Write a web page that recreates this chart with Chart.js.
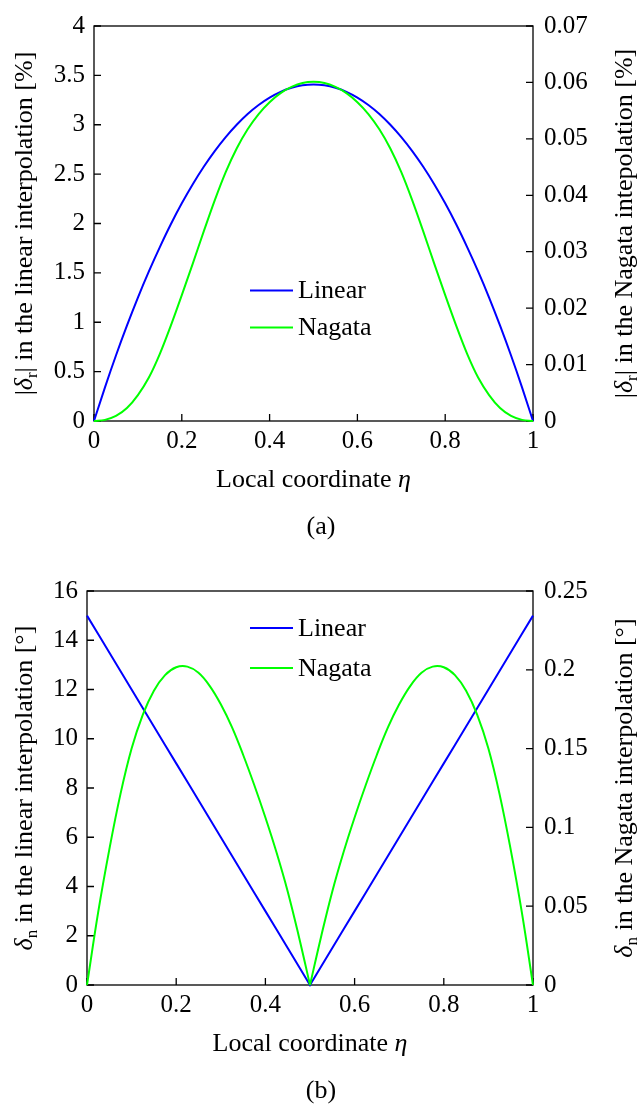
<!DOCTYPE html>
<html>
<head>
<meta charset="utf-8">
<script src="https://cdn.jsdelivr.net/npm/chart.js@4.4.0/dist/chart.umd.min.js"></script>
<style>
  html, body { margin: 0; padding: 0; background: #fff; }
  .panel { position: absolute; left: 0; width: 638px; height: 552px; }
</style>
</head>
<body>
<div class="panel" style="top:0"><canvas id="chartA" width="638" height="552"></canvas></div>
<div class="panel" style="top:552px"><canvas id="chartB" width="638" height="552"></canvas></div>
<script>
// local coordinate samples along the element
const eta = [0, 0.025, 0.05, 0.075, 0.1, 0.125, 0.15, 0.175, 0.2, 0.225, 0.25,
             0.275, 0.3, 0.325, 0.35, 0.375, 0.4, 0.425, 0.45, 0.475, 0.5,
             0.525, 0.55, 0.575, 0.6, 0.625, 0.65, 0.675, 0.7, 0.725, 0.75,
             0.775, 0.8, 0.825, 0.85, 0.875, 0.9, 0.925, 0.95, 0.975, 1];

// (a) |δr| in %, linear interpolation (left axis)
const radialLinear = [0, 0.341, 0.663, 0.965, 1.250, 1.515, 1.761, 1.992, 2.204, 2.397, 2.574,
                      2.733, 2.875, 3.000, 3.109, 3.200, 3.275, 3.333, 3.374, 3.399, 3.407,
                      3.399, 3.374, 3.333, 3.275, 3.200, 3.109, 3.000, 2.875, 2.733, 2.574,
                      2.397, 2.204, 1.992, 1.761, 1.515, 1.250, 0.965, 0.663, 0.341, 0];
// (a) |δr| in %, Nagata interpolation (right axis)
const radialNagata = [0, 0.0002, 0.0009, 0.0023, 0.0046, 0.0077, 0.0119, 0.0169, 0.0223, 0.0279, 0.0336,
                      0.0391, 0.0441, 0.0483, 0.0517, 0.0544, 0.0565, 0.0581, 0.0592, 0.0599, 0.0601,
                      0.0599, 0.0592, 0.0581, 0.0565, 0.0544, 0.0517, 0.0483, 0.0441, 0.0391, 0.0336,
                      0.0279, 0.0223, 0.0169, 0.0119, 0.0077, 0.0046, 0.0023, 0.0009, 0.0002, 0];

// (b) δn in degrees, linear interpolation (left axis)
const normalLinear = [15, 14.25, 13.5, 12.75, 12, 11.25, 10.5, 9.75, 9, 8.25, 7.5,
                      6.75, 6, 5.25, 4.5, 3.75, 3, 2.25, 1.5, 0.75, 0,
                      0.75, 1.5, 2.25, 3, 3.75, 4.5, 5.25, 6, 6.75, 7.5,
                      8.25, 9, 9.75, 10.5, 11.25, 12, 12.75, 13.5, 14.25, 15];
// (b) δn in degrees, Nagata interpolation (right axis)
const normalNagata = [0, 0.0461, 0.0859, 0.1211, 0.15, 0.1714, 0.1867, 0.1966, 0.2016, 0.2020, 0.1981,
                      0.1898, 0.1781, 0.1636, 0.1461, 0.1269, 0.1063, 0.0841, 0.0594, 0.0308, 0,
                      0.0308, 0.0594, 0.0841, 0.1063, 0.1269, 0.1461, 0.1636, 0.1781, 0.1898, 0.1981,
                      0.2020, 0.2016, 0.1966, 0.1867, 0.1714, 0.15, 0.1211, 0.0859, 0.0461, 0];

const xTicks = [0, 0.2, 0.4, 0.6, 0.8, 1];
const seriesNames = ['Linear', 'Nagata'];

const FONT = '"Liberation Serif", "Times New Roman", serif';
const BLUE = '#0000ff';
const GREEN = '#00ff00';
const INK = '#000';
const TEXT_SIZE = 26;

const fmt = v => String(+Number(v).toFixed(4));
const pts = (xs, ys) => xs.map((x, i) => ({ x, y: ys[i] }));

// draw a line of text made of pieces (italic greek, subscripts), centred on (x, y)
function richText(ctx, parts, x, y, size, vertical) {
  const fontOf = p => `${p.it ? 'italic ' : ''}${p.sub ? Math.round(size * 0.66) : size}px ${FONT}`;
  ctx.save();
  ctx.translate(x, y);
  if (vertical) ctx.rotate(-Math.PI / 2);
  ctx.textAlign = 'left';
  ctx.textBaseline = 'middle';
  ctx.fillStyle = INK;
  let total = 0;
  parts.forEach(p => { ctx.font = fontOf(p); total += ctx.measureText(p.t).width; });
  let cx = -total / 2;
  parts.forEach(p => {
    ctx.font = fontOf(p);
    ctx.fillText(p.t, cx, p.sub ? size * 0.28 : 0);
    cx += ctx.measureText(p.t).width;
  });
  ctx.restore();
}

const decorPlugin = {
  id: 'decor',
  beforeDatasetsDraw(chart) {
    const { ctx, chartArea: a, scales } = chart;
    const len = 7;
    ctx.save();
    ctx.strokeStyle = INK;
    ctx.lineWidth = 1.3;
    ctx.beginPath();
    scales.x.ticks.forEach(t => {
      const px = scales.x.getPixelForValue(t.value);
      ctx.moveTo(px, a.bottom); ctx.lineTo(px, a.bottom - len);
    });
    scales.y.ticks.forEach(t => {
      const py = scales.y.getPixelForValue(t.value);
      ctx.moveTo(a.left, py); ctx.lineTo(a.left + len, py);
    });
    scales.y1.ticks.forEach(t => {
      const py = scales.y1.getPixelForValue(t.value);
      ctx.moveTo(a.right, py); ctx.lineTo(a.right - len, py);
    });
    ctx.stroke();
    ctx.strokeRect(a.left, a.top, a.right - a.left, a.bottom - a.top);
    ctx.restore();
  },
  afterDraw(chart, args, opts) {
    const { ctx, chartArea: a } = chart;
    const midY = (a.top + a.bottom) / 2;
    richText(ctx, opts.leftTitle, 25, midY, TEXT_SIZE, true);
    richText(ctx, opts.rightTitle, 625, midY, TEXT_SIZE, true);
    richText(ctx, [{ t: 'Local coordinate ' }, { t: 'η', it: true }], (a.left + a.right) / 2, a.bottom + 59, TEXT_SIZE, false);
    richText(ctx, [{ t: opts.caption }], 321, a.bottom + 106, TEXT_SIZE, false);

    // legend inside the plot
    const lg = opts.legend;
    ctx.save();
    ctx.font = `${TEXT_SIZE}px ${FONT}`;
    ctx.textBaseline = 'middle';
    ctx.textAlign = 'left';
    seriesNames.forEach((name, i) => {
      const ds = chart.data.datasets.find(d => d.label === name);
      const x0 = a.left + lg.x;
      const y0 = a.top + lg.y + i * lg.gap;
      ctx.strokeStyle = ds.borderColor;
      ctx.lineWidth = 2;
      ctx.beginPath();
      ctx.moveTo(x0, y0); ctx.lineTo(x0 + 43, y0);
      ctx.stroke();
      ctx.fillStyle = INK;
      ctx.fillText(name, x0 + 48, y0 + 1);
    });
    ctx.restore();
  }
};

function makeChart(id, cfg) {
  const tickFont = { family: FONT, size: 25 };
  const yAxis = (pos, range, width, pad) => ({
    type: 'linear',
    position: pos,
    min: 0,
    max: range.max,
    ticks: { stepSize: range.step, padding: pad, font: tickFont, color: INK, callback: fmt },
    grid: { display: false, drawTicks: false, drawOnChartArea: false },
    border: { display: false },
    afterFit: s => { s.width = width; }
  });
  return new Chart(document.getElementById(id), {
    type: 'line',
    data: { datasets: cfg.datasets },
    options: {
      responsive: false,
      animation: false,
      devicePixelRatio: 1,
      layout: { padding: { top: cfg.box.top, left: 0, right: 0, bottom: 0 } },
      elements: {
        point: { radius: 0 },
        line: { borderWidth: 2, cubicInterpolationMode: 'monotone' }
      },
      plugins: {
        legend: { display: false },
        tooltip: { enabled: false },
        decor: cfg.decor
      },
      scales: {
        x: {
          type: 'linear',
          min: 0,
          max: 1,
          afterBuildTicks: s => { s.ticks = xTicks.map(v => ({ value: v })); },
          ticks: { padding: 5, font: tickFont, color: INK, callback: fmt, maxRotation: 0 },
          grid: { display: false, drawTicks: false },
          border: { display: false },
          afterFit: s => { s.height = cfg.box.bottom; }
        },
        y: yAxis('left', cfg.left, cfg.box.left, 9),
        y1: yAxis('right', cfg.right, cfg.box.right, 11)
      }
    },
    plugins: [decorPlugin]
  });
}

const line = (label, data, color, axis, order, extra) =>
  Object.assign({ label, data, borderColor: color, backgroundColor: color, yAxisID: axis, order, clip: false, fill: false }, extra || {});

// (a) radial error
makeChart('chartA', {
  box: { top: 20.5, left: 94, right: 105, bottom: 131 },
  left: { max: 4, step: 0.5 },
  right: { max: 0.07, step: 0.01 },
  datasets: [
    line('Linear', pts(eta, radialLinear), BLUE, 'y', 2),
    line('Nagata', pts(eta, radialNagata), GREEN, 'y1', 1)
  ],
  decor: {
    caption: '(a)',
    legend: { x: 156, y: 264.5, gap: 37 },
    leftTitle: [{ t: '|' }, { t: 'δ', it: true }, { t: 'r', sub: true }, { t: '| in the linear interpolation [%]' }],
    rightTitle: [{ t: '|' }, { t: 'δ', it: true }, { t: 'r', sub: true }, { t: '| in the Nagata intepolation [%]' }]
  }
});

// (b) normal error; the Nagata curve has a kink at the element midpoint,
// so each half is its own line
const nagataB = pts(eta, normalNagata);
const smooth = { cubicInterpolationMode: 'default', tension: 0.4 };
makeChart('chartB', {
  box: { top: 39, left: 87, right: 105, bottom: 119 },
  left: { max: 16, step: 2 },
  right: { max: 0.25, step: 0.05 },
  datasets: [
    line('Linear', pts(eta, normalLinear), BLUE, 'y', 2, { tension: 0, cubicInterpolationMode: 'default' }),
    line('Nagata', nagataB.filter(p => p.x <= 0.5), GREEN, 'y1', 1, smooth),
    line('Nagata ', nagataB.filter(p => p.x >= 0.5), GREEN, 'y1', 1, smooth)
  ],
  decor: {
    caption: '(b)',
    legend: { x: 163, y: 37, gap: 40 },
    leftTitle: [{ t: 'δ', it: true }, { t: 'n', sub: true }, { t: ' in the linear interpolation [°]' }],
    rightTitle: [{ t: 'δ', it: true }, { t: 'n', sub: true }, { t: ' in the Nagata interpolation [°]' }]
  }
});
</script>
</body>
</html>
